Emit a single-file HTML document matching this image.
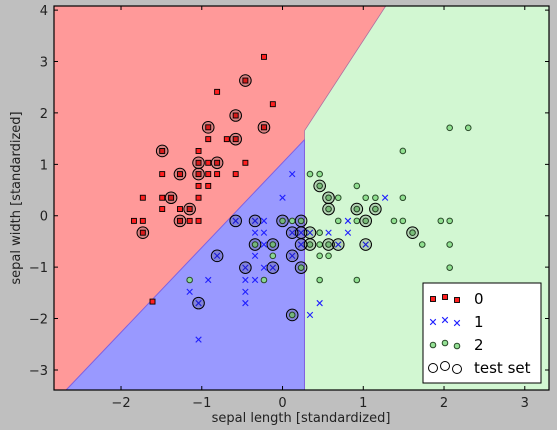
<!DOCTYPE html>
<html><head><meta charset="utf-8"><style>
html,body{margin:0;padding:0;background:#bfbfbf;}
svg{display:block;font-family:"DejaVu Sans","Liberation Sans",sans-serif;}
</style></head><body>
<svg id="chart" width="557" height="430" viewBox="0 0 557 430">
<rect x="0" y="0" width="557" height="430" fill="#bfbfbf"/>
<g id="regions"></g>
<g id="points"></g>
<rect x="54" y="6" width="495" height="384" fill="none" stroke="#000" stroke-width="1.2"/>
<g id="ticks"></g>
<text x="301" y="422" font-size="13" text-anchor="middle" fill="#222">sepal length [standardized]</text>
<text transform="translate(20,198) rotate(-90)" font-size="13" text-anchor="middle" fill="#222">sepal width [standardized]</text>
<g id="legend">
<rect x="423" y="283" width="118" height="100" fill="#fff" stroke="#000" stroke-width="1"/>
</g>
</svg>
<script>
const xTicks=[-2,-1,0,1,2,3];
const yTicks=[-3,-2,-1,0,1,2,3,4];
const xLim=[-2.83,3.30];
const yLim=[-3.39,4.08];
const class0=[[-0.23,3.09],[-0.46,2.63],[-0.81,2.41],[-0.12,2.17],[-0.58,1.95],[-0.92,1.72],[-0.23,1.72],[-0.92,1.49],[-0.69,1.49],[-0.58,1.49],[-1.49,1.26],[-1.04,1.26],[-1.04,1.03],[-0.92,1.03],[-0.81,1.03],[-0.46,1.03],[-1.49,0.81],[-1.27,0.81],[-1.04,0.81],[-0.92,0.81],[-0.81,0.81],[-0.58,0.81],[-1.04,0.58],[-0.92,0.58],[-1.73,0.35],[-1.49,0.35],[-1.38,0.35],[-1.04,0.35],[-1.49,0.13],[-1.27,0.13],[-1.15,0.13],[-1.84,-0.10],[-1.73,-0.10],[-1.27,-0.10],[-1.15,-0.10],[-1.04,-0.10],[-1.73,-0.33],[-1.61,-1.67]];
const class1=[[0.12,0.81],[0.00,0.35],[1.27,0.35],[-0.23,-0.10],[-0.34,-0.10],[-0.58,-0.10],[0.81,-0.10],[-0.34,-0.33],[-0.23,-0.33],[0.12,-0.33],[0.23,-0.33],[0.34,-0.33],[0.57,-0.33],[0.81,-0.33],[-0.23,-0.56],[0.23,-0.56],[0.69,-0.56],[1.03,-0.56],[-0.81,-0.78],[-0.34,-0.78],[0.12,-0.78],[-0.46,-1.01],[-0.23,-1.01],[-0.12,-1.01],[-0.92,-1.25],[-0.46,-1.25],[-0.34,-1.25],[-1.15,-1.48],[-0.46,-1.48],[-1.04,-1.70],[-0.46,-1.70],[0.46,-1.70],[0.34,-1.93],[-1.04,-2.41]];
const class2=[[2.07,1.71],[2.30,1.71],[1.49,1.26],[0.34,0.81],[0.46,0.81],[0.46,0.58],[0.92,0.58],[0.57,0.35],[0.69,0.35],[1.03,0.35],[1.15,0.35],[1.49,0.35],[0.57,0.13],[0.92,0.13],[1.15,0.13],[0.00,-0.10],[0.12,-0.10],[0.23,-0.10],[0.69,-0.10],[0.92,-0.10],[1.03,-0.10],[1.38,-0.10],[1.49,-0.10],[1.96,-0.10],[2.07,-0.10],[0.46,-0.33],[1.61,-0.33],[-0.34,-0.56],[-0.12,-0.56],[0.34,-0.56],[0.46,-0.56],[0.57,-0.56],[1.73,-0.56],[2.07,-0.56],[-0.12,-0.78],[0.46,-0.78],[0.57,-0.78],[0.23,-1.01],[2.07,-1.01],[-1.15,-1.25],[-0.23,-1.25],[0.46,-1.25],[0.92,-1.25],[0.12,-1.93]];
const testSet=[[-0.46,2.63],[-0.58,1.95],[-0.92,1.72],[-0.23,1.72],[-0.58,1.49],[-1.49,1.26],[-1.04,1.03],[-0.81,1.03],[-1.27,0.81],[-1.04,0.81],[-1.38,0.35],[-1.15,0.13],[-1.27,-0.10],[-1.73,-0.33],[-0.34,-0.10],[-0.58,-0.10],[0.12,-0.33],[0.23,-0.33],[0.34,-0.33],[0.23,-0.56],[0.69,-0.56],[1.03,-0.56],[-0.81,-0.78],[0.12,-0.78],[-0.46,-1.01],[-0.12,-1.01],[-1.04,-1.70],[0.46,0.58],[0.57,0.35],[0.57,0.13],[0.92,0.13],[1.15,0.13],[0.00,-0.10],[0.23,-0.10],[1.03,-0.10],[1.61,-0.33],[-0.34,-0.56],[-0.12,-0.56],[0.34,-0.56],[0.57,-0.56],[0.23,-1.01],[0.12,-1.93]];
const redPoly=[[-2.83,4.08],[-2.83,-3.39],[-2.68,-3.39],[0.272,1.479],[0.272,1.654],[1.278,4.08]];
const bluePoly=[[-2.68,-3.39],[0.272,-3.39],[0.272,1.479]];
const greenPoly=[[0.272,-3.39],[3.30,-3.39],[3.30,4.08],[1.278,4.08],[0.272,1.654]];

const L=54,R=549,T=6,B=390;
function sx(v){return L+(v-xLim[0])/(xLim[1]-xLim[0])*(R-L);}
function sy(v){return B-(v-yLim[0])/(yLim[1]-yLim[0])*(B-T);}
const NS='http://www.w3.org/2000/svg';
function mk(tag,attrs,parent){const e=document.createElementNS(NS,tag);for(const k in attrs)e.setAttribute(k,attrs[k]);parent.appendChild(e);return e;}
const gR=document.getElementById('regions'),gP=document.getElementById('points'),gT=document.getElementById('ticks'),gL=document.getElementById('legend');
function poly(pts,fill,name){const e=mk('polygon',{points:pts.map(p=>sx(p[0])+','+sy(p[1])).join(' '),fill:fill},gR);

}
poly(redPoly,'#ff9999','region-class-0');
poly(bluePoly,'#9999ff','region-class-1');
poly(greenPoly,'#d2f7d2','region-class-2');
const edge=mk('polyline',{points:[[-2.68,-3.39],[0.272,1.479],[0.272,-3.39]].map(p=>sx(p[0])+','+sy(p[1])).join(' '),fill:'none',stroke:'#8060e0','stroke-width':1},gR);


const edge2=mk('polyline',{points:[[0.272,1.479],[0.272,1.654],[1.278,4.08]].map(p=>sx(p[0])+','+sy(p[1])).join(' '),fill:'none',stroke:'#b070a0','stroke-width':0.8},gR);



function square(x,y,parent){return mk('rect',{x:x-2.5,y:y-2.5,width:5,height:5,fill:'#ff2020',stroke:'#000','stroke-width':0.9},parent);}
function cross(x,y,parent){return mk('path',{d:`M${x-2.8},${y-2.8}L${x+2.8},${y+2.8}M${x-2.8},${y+2.8}L${x+2.8},${y-2.8}`,stroke:'#2020ff','stroke-width':1.1,fill:'none'},parent);}
function dot(x,y,parent){return mk('circle',{cx:x,cy:y,r:2.8,fill:'#88dd88',stroke:'#2a4a2a','stroke-width':1,'fill-opacity':0.9},parent);}
class0.forEach(p=>{const e=square(sx(p[0]),sy(p[1]),gP);

});
class1.forEach(p=>{const e=cross(sx(p[0]),sy(p[1]),gP);

});
class2.forEach(p=>{const e=dot(sx(p[0]),sy(p[1]),gP);

});
testSet.forEach(p=>{const e=mk('circle',{cx:sx(p[0]),cy:sy(p[1]),r:5.8,fill:'#000','fill-opacity':0.15,stroke:'#000','stroke-width':1},gP);

});

xTicks.forEach(v=>{const x=sx(v);
const t=mk('path',{d:`M${x},${B}v-4M${x},${T}v4`,stroke:'#000','stroke-width':1},gT);


const l=mk('text',{x:x,y:B+17,'font-size':13,'text-anchor':'middle',fill:'#222'},gT);l.textContent=(v<0?'\u2212'+(-v):v);

});
yTicks.forEach(v=>{const y=sy(v);
const t=mk('path',{d:`M${L},${y}h4M${R},${y}h-4`,stroke:'#000','stroke-width':1},gT);


const l=mk('text',{x:L-6,y:y+5,'font-size':13,'text-anchor':'end',fill:'#222'},gT);l.textContent=(v<0?'\u2212'+(-v):v);

});

const legendLabels=['0','1','2','test set'];
legendLabels.forEach((lab,i)=>{const y=299+i*23;
[433,445,457].forEach((x,j)=>{const yy=y+(j===1?-2:(j===2?1:0));let e;
if(i===0)e=square(x,yy,gL);else if(i===1)e=cross(x,yy,gL);else if(i===2)e=dot(x,yy,gL);
else e=mk('circle',{cx:x,cy:yy,r:4.5,fill:'none',stroke:'#000','stroke-width':1},gL);

});
const t=mk('text',{x:474,y:y+5,'font-size':15,fill:'#000'},gL);t.textContent=lab;

});
</script>
</body></html>
